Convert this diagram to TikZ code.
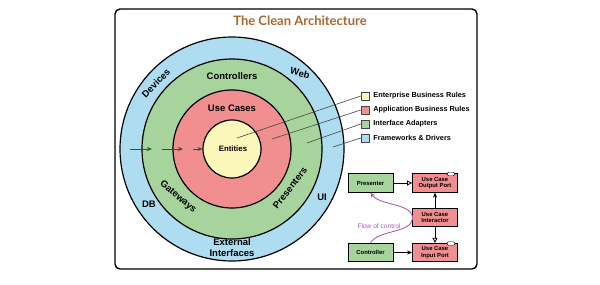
\documentclass[tikz,border=0pt]{standalone}
\usepackage{fontspec}
\setmainfont{Liberation Sans}
\newfontfamily\titlefont{Lato}
\usetikzlibrary{arrows.meta, positioning}
\definecolor{CABlue}{RGB}{174,221,242}
\definecolor{CAGreen}{RGB}{166,212,156}
\definecolor{CARed}{RGB}{240,142,144}
\definecolor{CAYellow}{RGB}{251,247,186}
\definecolor{CABrown}{RGB}{172,102,48}
\definecolor{CAPurple}{RGB}{176,92,182}
\definecolor{CALine}{RGB}{70,70,70}

\begin{document}
\begin{tikzpicture}[x=1pt, y=-1pt,
    ring/.style={circle, draw=black, line width=1.2pt, inner sep=0pt},
    lbl/.style={font=\fontsize{9.5}{10.5}\selectfont\bfseries, align=center, inner sep=1pt},
    legsq/.style={rectangle, draw=CALine, line width=0.5pt, minimum size=8, inner sep=0pt},
    legtxt/.style={font=\fontsize{7.3}{8}\selectfont\bfseries, anchor=west, inner sep=0pt},
    leader/.style={CALine, line width=0.6pt},
    box/.style={rectangle, draw=black, line width=0.8pt, minimum width=45,
                minimum height=18.5, inner sep=0pt, align=center,
                font=\fontsize{5.9}{6.8}\selectfont\bfseries},
    iface/.style={rectangle, rounded corners=1.5pt, draw=black, fill=white,
                  line width=0.4pt, minimum width=8, minimum height=3.5, inner sep=0pt},
    arr/.style={-{Stealth[length=5pt, width=4pt]}, line width=0.8pt, CALine},
    impl/.style={-{Triangle[open, length=5pt, width=5pt]}, line width=0.8pt}
  ]
  \useasboundingbox (0,0) rectangle (600,284);

  % frame and title
  \draw[line width=1.4pt, rounded corners=5pt] (115,9) rectangle (477,269);
  \node[font=\titlefont\fontsize{13}{14}\selectfont\bfseries, text=CABrown] (title) at (300,21)
    {The Clean Architecture};

  % the rings
  \node[ring, fill=CABlue,   minimum size=224] (fw)  at (232,149) {};
  \node[ring, fill=CAGreen,  minimum size=180] (ia)  at (232,149) {};
  \node[ring, fill=CARed,    minimum size=118] (ab)  at (232,149) {};
  \node[ring, fill=CAYellow, minimum size=58,
        font=\fontsize{7.8}{8}\selectfont\bfseries] (ent) at (232,149) {\hspace{2pt}Entities};

  \node[lbl] (ctrls)   at (232,76)  {Controllers};
  \node[lbl] (uc)      at (232,108) {Use Cases};
  \node[lbl, rotate=46]  (devices) at (156,83)  {Devices};
  \node[lbl, rotate=-14] (web)     at (300,73)  {Web};
  \node[lbl] (db)      at (149,204) {DB};
  \node[lbl] (ui)      at (322,197) {UI};
  \node[lbl, rotate=-40] (gates)   at (178,197) {Gateways};
  \node[lbl, rotate=52]  (pres)    at (290,188) {Presenters};
  \node[lbl, font=\fontsize{9.5}{11}\selectfont\bfseries] (extif) at (232,248)
    {External\\Interfaces};

  % dependency arrows pointing inward
  \coordinate (a1) at (130,149);
  \coordinate (a2) at (152,149);
  \coordinate (a3) at (162,149);
  \coordinate (a4) at (183,149);
  \coordinate (a5) at (193,149);
  \draw[arr] (a1) -- (a2);
  \draw[arr] (a3) -- (a4);
  \draw[arr] (a5) -- (ent.west);

  % legend
  \node[legsq, fill=CAYellow] (sqEnt) at (365,96)  {};
  \node[legsq, fill=CARed]    (sqApp) at (365,110) {};
  \node[legsq, fill=CAGreen]  (sqIa)  at (365,124) {};
  \node[legsq, fill=CABlue]   (sqFw)  at (365,138) {};
  \node[legtxt, right=4pt of sqEnt] (txEnt) {Enterprise Business Rules};
  \node[legtxt, right=4pt of sqApp] (txApp) {Application Business Rules};
  \node[legtxt, right=4pt of sqIa]  (txIa)  {Interface Adapters};
  \node[legtxt, right=4pt of sqFw]  (txFw)  {Frameworks \& Drivers};

  \coordinate (pEnt) at (237,138);
  \coordinate (pApp) at (272,139);
  \coordinate (pIa)  at (307,143);
  \coordinate (pFw)  at (333,147);
  \draw[leader] (sqEnt.west) -- (pEnt);
  \draw[leader] (sqApp.west) -- (pApp);
  \draw[leader] (sqIa.west)  -- (pIa);
  \draw[leader] (sqFw.west)  -- (pFw);

  % flow of control
  \node[box, fill=CAGreen] (presenter) at (370.5,183) {Presenter};
  \node[box, fill=CARed]   (outport)   at (435,183)   {Use Case\\Output Port};
  \node[box, fill=CARed]   (interactor) at (435,217.5) {Use Case\\Interactor};
  \node[box, fill=CAGreen] (controller) at (370.5,252.5) {Controller};
  \node[box, fill=CARed]   (inport)    at (435,252.5) {Use Case\\Input Port};
  \node[iface] (outI) at (451,174) {};
  \node[iface] (inI)  at (451,243.5) {};

  \draw[impl] (presenter.east) -- (outport.west);
  \draw[arr, black] (controller.east) -- (inport.west);
  \draw[arr, black] (interactor.north) -- (outport.south);
  \draw[impl] (interactor.south) -- (inport.north);

  \draw[CAPurple, line width=0.9pt, -{Stealth[length=5pt, width=4.5pt]}]
    (controller.north) .. controls (378,230) and (411,233) .. (412.5,219)
    .. controls (414,203) and (380,206) .. (presenter.south);
  \node[font=\fontsize{6.6}{7}\selectfont, text=CAPurple] (flowlbl) at (379,226) {Flow of control};
\end{tikzpicture}
\end{document}
